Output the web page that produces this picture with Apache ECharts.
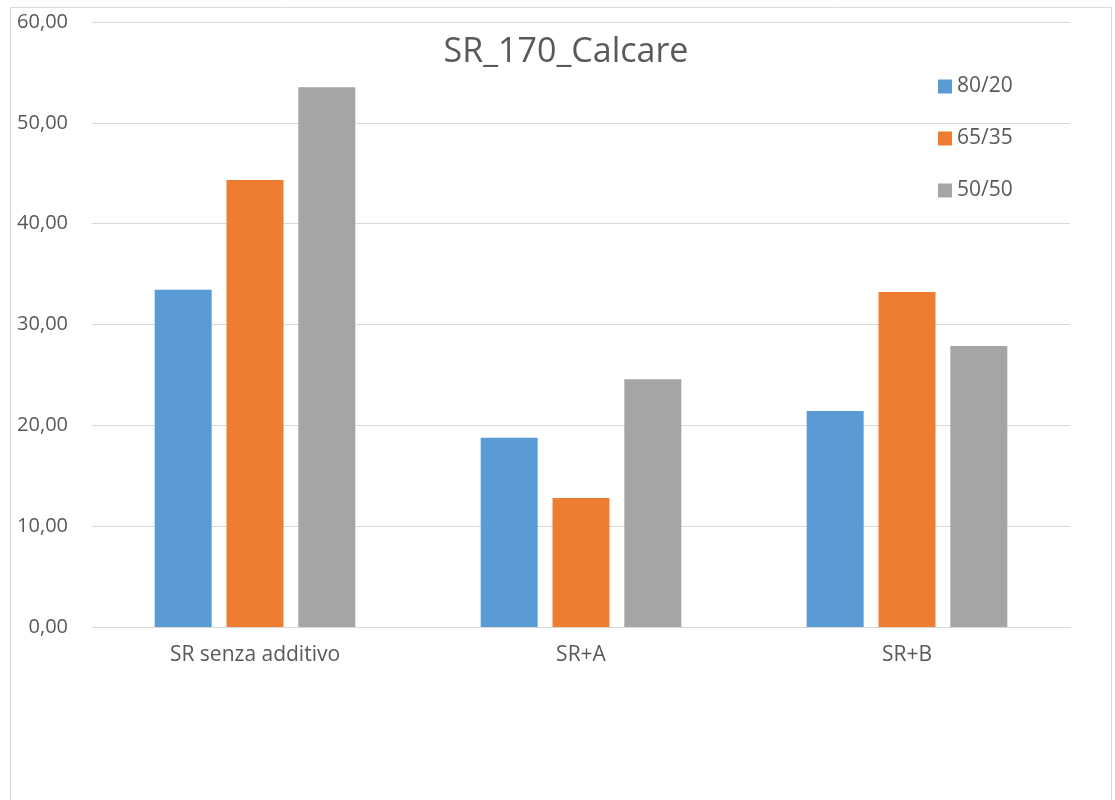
<!DOCTYPE html>
<html>
<head>
<meta charset="utf-8">
<style>
  html, body { margin: 0; padding: 0; background: #fff; }
  #chart { width: 1115px; height: 800px; }
</style>
<script src="https://cdn.jsdelivr.net/npm/echarts@6/dist/echarts.min.js"></script>
</head>
<body>
<div id="chart"></div>
<script>
// Categories and series values
const categories = ['SR senza additivo', 'SR+A', 'SR+B'];
const series8020 = [33.45, 18.77, 21.42];
const series6535 = [44.33, 12.79, 33.22];
const series5050 = [53.52, 24.56, 27.87];
const seriesNames = ['80/20', '65/35', '50/50'];
const seriesColors = ['#5b9bd5', '#ed7d31', '#a5a5a5'];

const chart = echarts.init(document.getElementById('chart'));

const values = [series8020, series6535, series5050];

chart.setOption({
  animation: false,
  backgroundColor: '#ffffff',
  title: {
    text: 'SR_170_Calcare',
    left: 561,
    top: 30,
    textAlign: 'center',
    textStyle: { fontFamily: 'Open Sans', fontSize: 34, fontWeight: 'normal', color: '#595959' }
  },
  legend: {
    orient: 'vertical',
    left: 933,
    top: 71,
    itemWidth: 14,
    itemHeight: 14,
    itemGap: 31,
    icon: 'rect',
    textStyle: { fontFamily: 'Open Sans', fontSize: 21, lineHeight: 20, color: '#595959' },
    data: seriesNames
  },
  graphic: [{
    type: 'rect',
    shape: { x: 10.5, y: 7.5, width: 1101, height: 820 },
    style: { fill: 'none', stroke: '#d9d9d9', lineWidth: 1 },
    silent: true
  }],
  grid: { left: 92, right: 45, top: 22, bottom: 173 },
  xAxis: {
    type: 'category',
    data: categories,
    axisLine: { lineStyle: { color: '#d9d9d9', width: 1 } },
    axisTick: { show: false },
    axisLabel: { fontFamily: 'Open Sans', fontSize: 21, color: '#595959', margin: 18 }
  },
  yAxis: {
    type: 'value',
    min: 0,
    max: 60,
    interval: 10,
    axisLine: { show: false },
    axisTick: { show: false },
    splitLine: { lineStyle: { color: '#d9d9d9', width: 1 } },
    axisLabel: {
      fontFamily: 'Open Sans',
      fontSize: 20,
      color: '#595959',
      margin: 24,
      formatter: v => v.toFixed(2).replace('.', ',')
    }
  },
  series: seriesNames.map((name, i) => ({
    name: name,
    type: 'bar',
    data: values[i],
    barWidth: 57,
    barGap: '26%',
    itemStyle: { color: seriesColors[i] }
  }))
});
</script>
</body>
</html>
